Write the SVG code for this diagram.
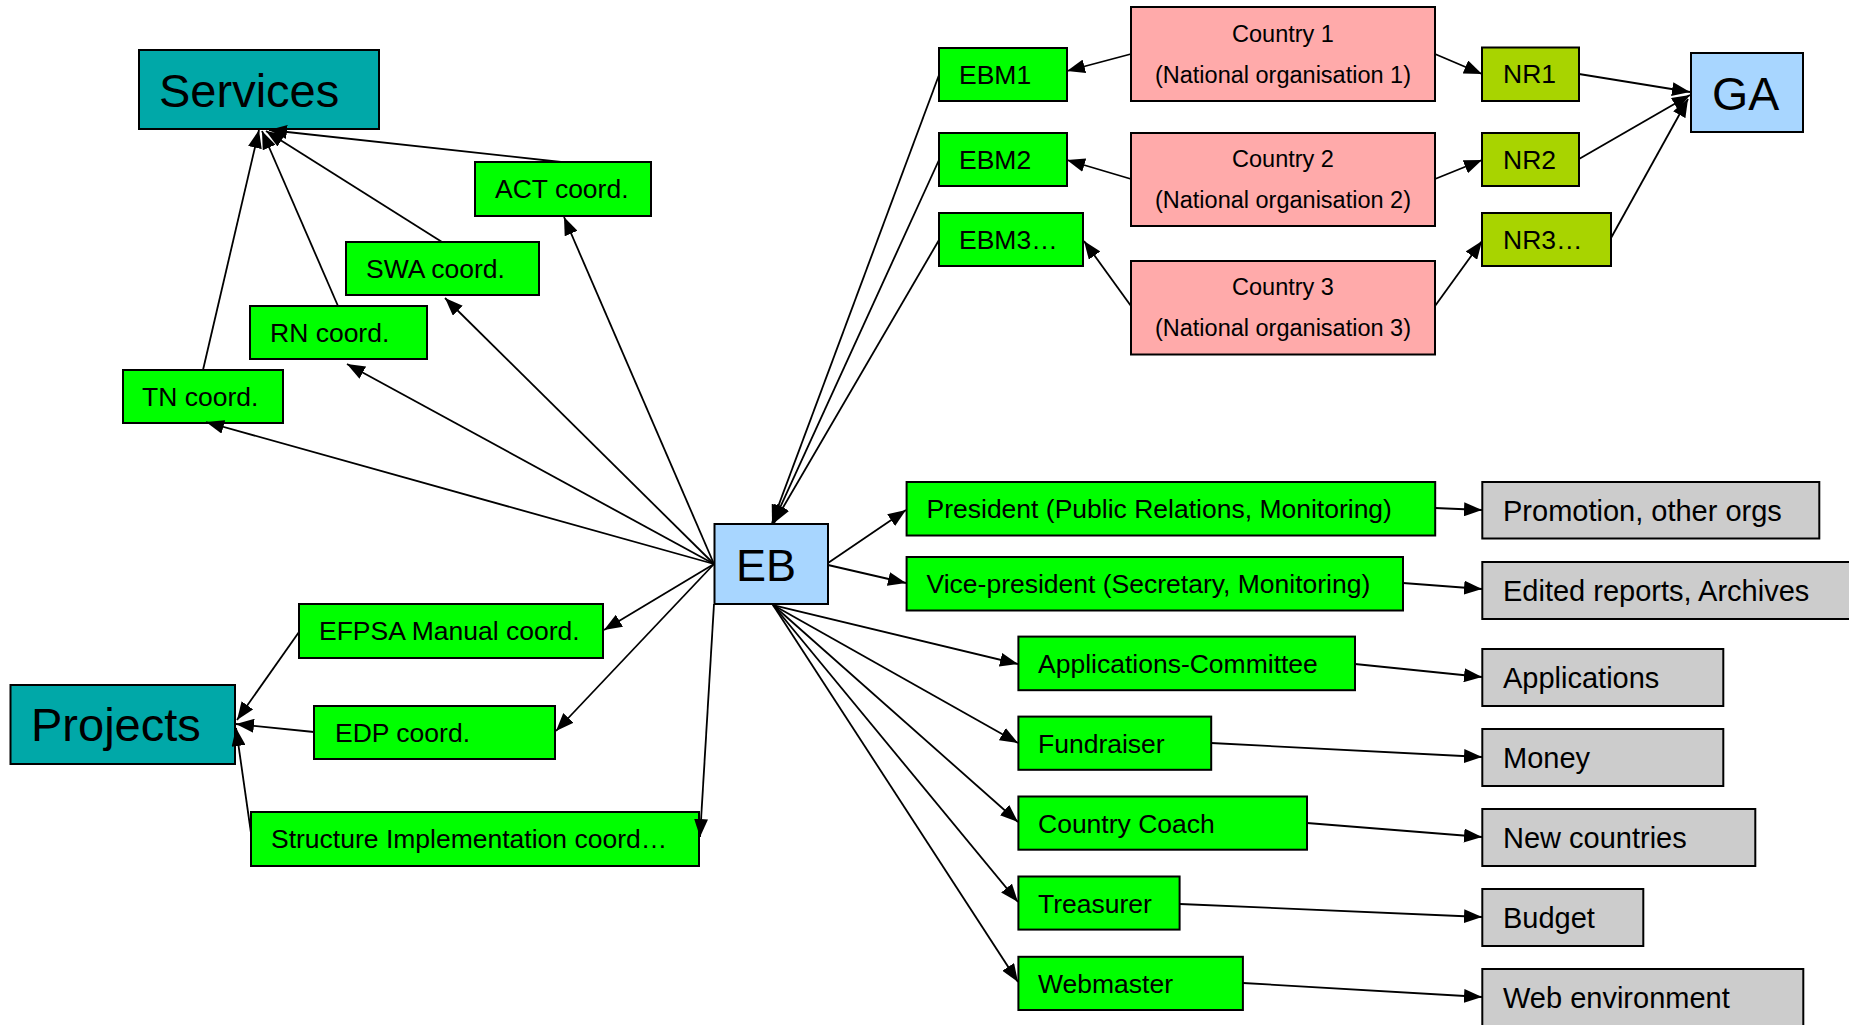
<svg xmlns="http://www.w3.org/2000/svg" width="1849" height="1025" viewBox="0 0 1849 1025">
<defs>
<marker id="arr" markerUnits="userSpaceOnUse" markerWidth="18" markerHeight="14" refX="18" refY="7" orient="auto">
<path d="M0,0 L18,7 L0,14 z" fill="#000"/>
</marker>
<style>
.n rect{stroke:#000;stroke-width:2}
text{font-family:"Liberation Sans",Arial,sans-serif;fill:#000}
.teal{fill:#00A8A8}
.blue{fill:#A8D6FF}
.green{fill:#00FF00}
.pink{fill:#FFAAAA}
.nr{fill:#A8D400}
.gray{fill:#CCCCCC}
.big{font-size:47px}
.t{font-size:26.5px}
.c{font-size:23.5px;text-anchor:middle}
.g{font-size:29px}
#connectors line{stroke:#000;stroke-width:1.8;marker-end:url(#arr)}
</style>
</defs>
<rect x="0" y="0" width="1849" height="1025" fill="#fff"/>

<g class="n" id="services"><rect class="teal" x="139" y="50" width="240" height="79"/><text class="big" x="159" y="107">Services</text></g>
<g class="n" id="act"><rect class="green" x="475" y="162" width="176" height="54"/><text class="t" x="495" y="198">ACT coord.</text></g>
<g class="n" id="swa"><rect class="green" x="346" y="242" width="193" height="53"/><text class="t" x="366" y="278">SWA coord.</text></g>
<g class="n" id="rn"><rect class="green" x="250" y="306" width="177" height="53"/><text class="t" x="270" y="342">RN coord.</text></g>
<g class="n" id="tn"><rect class="green" x="123" y="370" width="160" height="53"/><text class="t" x="142" y="406">TN coord.</text></g>
<g class="n" id="projects"><rect class="teal" x="10.5" y="685" width="224.5" height="79"/><text class="big" x="31" y="741">Projects</text></g>
<g class="n" id="efpsa"><rect class="green" x="299" y="604" width="304" height="54"/><text class="t" x="319" y="640">EFPSA Manual coord.</text></g>
<g class="n" id="edp"><rect class="green" x="314" y="706" width="241" height="53"/><text class="t" x="335" y="742">EDP coord.</text></g>
<g class="n" id="structure"><rect class="green" x="251" y="812" width="448" height="54"/><text class="t" x="271" y="848">Structure Implementation coord…</text></g>
<g class="n" id="eb"><rect class="blue" x="714.5" y="524" width="113.5" height="80"/><text x="736" y="581" font-size="45">EB</text></g>
<g class="n" id="ebm1"><rect class="green" x="939" y="48" width="128" height="53"/><text class="t" x="959" y="84">EBM1</text></g>
<g class="n" id="ebm2"><rect class="green" x="939" y="133" width="128" height="53"/><text class="t" x="959" y="169">EBM2</text></g>
<g class="n" id="ebm3"><rect class="green" x="939" y="213" width="144" height="53"/><text class="t" x="959" y="249">EBM3…</text></g>
<g class="n" id="country1"><rect class="pink" x="1131" y="7" width="304" height="94"/><text class="c" x="1283" y="42">Country 1</text><text class="c" x="1283" y="83">(National organisation 1)</text></g>
<g class="n" id="country2"><rect class="pink" x="1131" y="133" width="304" height="93"/><text class="c" x="1283" y="167">Country 2</text><text class="c" x="1283" y="208">(National organisation 2)</text></g>
<g class="n" id="country3"><rect class="pink" x="1131" y="261" width="304" height="93.5"/><text class="c" x="1283" y="295">Country 3</text><text class="c" x="1283" y="336">(National organisation 3)</text></g>
<g class="n" id="nr1"><rect class="nr" x="1482" y="47.5" width="97" height="53.5"/><text class="t" x="1503" y="83">NR1</text></g>
<g class="n" id="nr2"><rect class="nr" x="1482" y="133" width="97" height="53"/><text class="t" x="1503" y="169">NR2</text></g>
<g class="n" id="nr3"><rect class="nr" x="1482" y="213" width="129" height="53"/><text class="t" x="1503" y="249">NR3…</text></g>
<g class="n" id="ga"><rect class="blue" x="1691" y="53" width="112" height="79"/><text x="1712" y="110" font-size="46.5">GA</text></g>
<g class="n" id="president"><rect class="green" x="906.6" y="482" width="528.6" height="53.5"/><text class="t" x="926.5" y="518">President (Public Relations, Monitoring)</text></g>
<g class="n" id="vice"><rect class="green" x="906.6" y="557" width="496.4" height="53.5"/><text class="t" x="926.5" y="593">Vice-president (Secretary, Monitoring)</text></g>
<g class="n" id="appcom"><rect class="green" x="1018.4" y="636.6" width="336.6" height="53.6"/><text class="t" x="1038" y="673">Applications-Committee</text></g>
<g class="n" id="fundraiser"><rect class="green" x="1018.4" y="716.6" width="192.8" height="53.2"/><text class="t" x="1038" y="753">Fundraiser</text></g>
<g class="n" id="coach"><rect class="green" x="1018.4" y="796.5" width="288.6" height="53.2"/><text class="t" x="1038" y="833">Country Coach</text></g>
<g class="n" id="treasurer"><rect class="green" x="1018.4" y="876.5" width="161.2" height="53.1"/><text class="t" x="1038" y="913">Treasurer</text></g>
<g class="n" id="webmaster"><rect class="green" x="1018.4" y="956.8" width="224.5" height="53.2"/><text class="t" x="1038" y="993">Webmaster</text></g>
<g class="n" id="promotion"><rect class="gray" x="1482.3" y="482" width="337" height="56.5"/><text class="g" x="1503" y="520.5">Promotion, other orgs</text></g>
<g class="n" id="edited"><rect class="gray" x="1482.3" y="562" width="380" height="57"/><text class="g" x="1503" y="600.5">Edited reports, Archives</text></g>
<g class="n" id="applications"><rect class="gray" x="1482.3" y="649" width="241" height="57"/><text class="g" x="1503" y="687.5">Applications</text></g>
<g class="n" id="money"><rect class="gray" x="1482.3" y="729" width="241" height="57"/><text class="g" x="1503" y="767.5">Money</text></g>
<g class="n" id="newcountries"><rect class="gray" x="1482.3" y="809" width="273" height="57"/><text class="g" x="1503" y="847.5">New countries</text></g>
<g class="n" id="budget"><rect class="gray" x="1482.3" y="889" width="161" height="57"/><text class="g" x="1503" y="927.5">Budget</text></g>
<g class="n" id="webenv"><rect class="gray" x="1482.3" y="969" width="321" height="70"/><text class="g" x="1503" y="1007.5">Web environment</text></g>

<g id="connectors">
<line x1="203" y1="370" x2="259" y2="130"/>
<line x1="338" y1="306" x2="262" y2="131"/>
<line x1="442" y1="242" x2="266" y2="131"/>
<line x1="561" y1="162" x2="269" y2="130"/>
<line x1="714" y1="564" x2="206" y2="422"/>
<line x1="714" y1="564" x2="347" y2="364"/>
<line x1="714" y1="564" x2="445" y2="298"/>
<line x1="714" y1="564" x2="564" y2="217"/>
<line x1="714" y1="564" x2="604" y2="630"/>
<line x1="714" y1="564" x2="556" y2="731"/>
<line x1="714" y1="604" x2="700" y2="837"/>
<line x1="299" y1="632" x2="237" y2="720"/>
<line x1="314" y1="732" x2="236" y2="724"/>
<line x1="251" y1="833" x2="236" y2="728"/>
<line x1="939" y1="75" x2="772" y2="523"/>
<line x1="939" y1="160" x2="773" y2="523"/>
<line x1="939" y1="240" x2="774" y2="523"/>
<line x1="1131" y1="54" x2="1067" y2="71"/>
<line x1="1131" y1="179" x2="1067" y2="160"/>
<line x1="1131" y1="306" x2="1084" y2="241"/>
<line x1="1435" y1="54" x2="1482" y2="74"/>
<line x1="1435" y1="179" x2="1482" y2="160"/>
<line x1="1435" y1="306" x2="1482" y2="241"/>
<line x1="1579" y1="74" x2="1690" y2="92"/>
<line x1="1579" y1="159" x2="1690" y2="95"/>
<line x1="1611" y1="238" x2="1688" y2="99"/>
<line x1="828" y1="563" x2="906" y2="510"/>
<line x1="828" y1="565" x2="906" y2="583"/>
<line x1="773" y1="605" x2="1018" y2="664"/>
<line x1="773" y1="605" x2="1018" y2="743"/>
<line x1="773" y1="605" x2="1018" y2="822"/>
<line x1="773" y1="605" x2="1018" y2="902"/>
<line x1="773" y1="605" x2="1018" y2="982"/>
<line x1="1435" y1="508" x2="1482" y2="510"/>
<line x1="1403" y1="583" x2="1482" y2="589"/>
<line x1="1355" y1="664" x2="1482" y2="677"/>
<line x1="1211" y1="743" x2="1482" y2="757"/>
<line x1="1307" y1="823" x2="1482" y2="837"/>
<line x1="1180" y1="904" x2="1482" y2="917"/>
<line x1="1243" y1="983" x2="1482" y2="997"/>
</g>
</svg>
